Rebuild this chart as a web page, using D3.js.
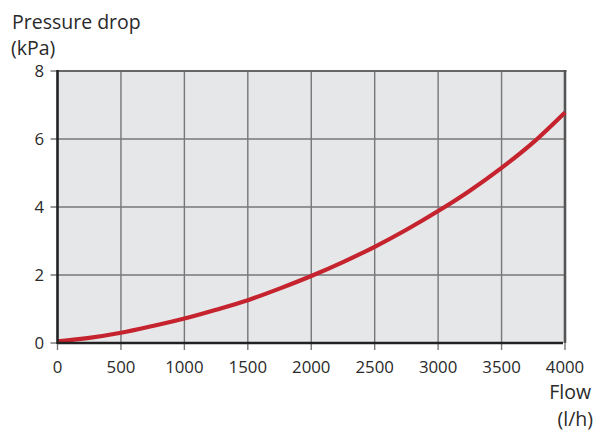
<!DOCTYPE html>
<html><head><meta charset="utf-8">
<script src="https://cdn.jsdelivr.net/npm/d3@7"></script>
<style>body{margin:0;background:#fff}svg{display:block}text{font-family:"Open Sans","Noto Sans",sans-serif;fill:#2a2a2a}</style>
</head><body><svg id="c" width="600" height="432"></svg>
<script>
const flow = [0,250,500,750,1000,1250,1500,1750,2000,2250,2500,2750,3000,3250,3500,3750,4000];
const pressure = [0.05,0.15,0.30,0.50,0.72,0.98,1.26,1.60,1.97,2.38,2.83,3.33,3.88,4.48,5.15,5.90,6.78];
const xTicks = [0,500,1000,1500,2000,2500,3000,3500,4000];
const yTicks = [0,2,4,6,8];

const svg = d3.select("#c");
const L=57.5, R=565, T=71, B=343;
const x = d3.scaleLinear().domain([0,4000]).range([L,R]);
const y = d3.scaleLinear().domain([0,8]).range([B,T]);

svg.append("rect").attr("x",L).attr("y",T).attr("width",R-L).attr("height",B-T).attr("fill","#e6e7e9");

const g = svg.append("g");
g.selectAll(".vx").data(xTicks.slice(1,-1)).join("line")
  .attr("x1",d=>x(d)).attr("x2",d=>x(d)).attr("y1",T).attr("y2",B+7)
  .attr("stroke","#777").attr("stroke-width",1.4);
g.selectAll(".hy").data(yTicks.slice(1,-1)).join("line")
  .attr("x1",L-7).attr("x2",R).attr("y1",d=>y(d)).attr("y2",d=>y(d))
  .attr("stroke","#777").attr("stroke-width",1.4);
svg.append("line").attr("x1",L-7).attr("x2",L).attr("y1",T).attr("y2",T).attr("stroke","#777").attr("stroke-width",1.4);
svg.append("line").attr("x1",L-7).attr("x2",L).attr("y1",B).attr("y2",B).attr("stroke","#777").attr("stroke-width",1.4);
svg.append("line").attr("x1",L).attr("x2",L).attr("y1",B).attr("y2",B+7).attr("stroke","#777").attr("stroke-width",1.4);
svg.append("line").attr("x1",R).attr("x2",R).attr("y1",B).attr("y2",B+7).attr("stroke","#777").attr("stroke-width",1.4);

svg.append("line").attr("x1",L).attr("x2",R+1.5).attr("y1",T).attr("y2",T).attr("stroke","#666").attr("stroke-width",2);
svg.append("line").attr("x1",R).attr("x2",R).attr("y1",T-1).attr("y2",B).attr("stroke","#555").attr("stroke-width",2.6);

const line = d3.line().x((d,i)=>x(flow[i])).y(d=>y(d)).curve(d3.curveMonotoneX);
svg.append("path").datum(pressure).attr("d",line).attr("fill","none")
  .attr("stroke","#c5232e").attr("stroke-width",4.2).attr("stroke-linecap","butt");

svg.append("line").attr("x1",L).attr("x2",R-2).attr("y1",B).attr("y2",B).attr("stroke","#222").attr("stroke-width",2.6);
svg.append("line").attr("x1",L).attr("x2",L).attr("y1",T-1).attr("y2",B+1).attr("stroke","#222").attr("stroke-width",2.6);

svg.selectAll(".yl").data(yTicks).join("text")
  .attr("x",44).attr("y",d=>y(d)).attr("dy","0.36em").attr("text-anchor","end")
  .attr("font-size",16.8).text(d=>d);
svg.selectAll(".xl").data(xTicks).join("text")
  .attr("x",d=>x(d)).attr("y",373).attr("text-anchor","middle")
  .attr("font-size",16.8).text(d=>d);

svg.append("text").attr("x",12).attr("y",29).attr("font-size",19.5).text("Pressure drop");
svg.append("text").attr("x",11).attr("y",55).attr("font-size",19.5).text("(kPa)");
svg.append("text").attr("x",591).attr("y",399).attr("text-anchor","end").attr("font-size",19.5).text("Flow");
svg.append("text").attr("x",593).attr("y",426).attr("text-anchor","end").attr("font-size",19.5).text("(l/h)");
</script></body></html>
